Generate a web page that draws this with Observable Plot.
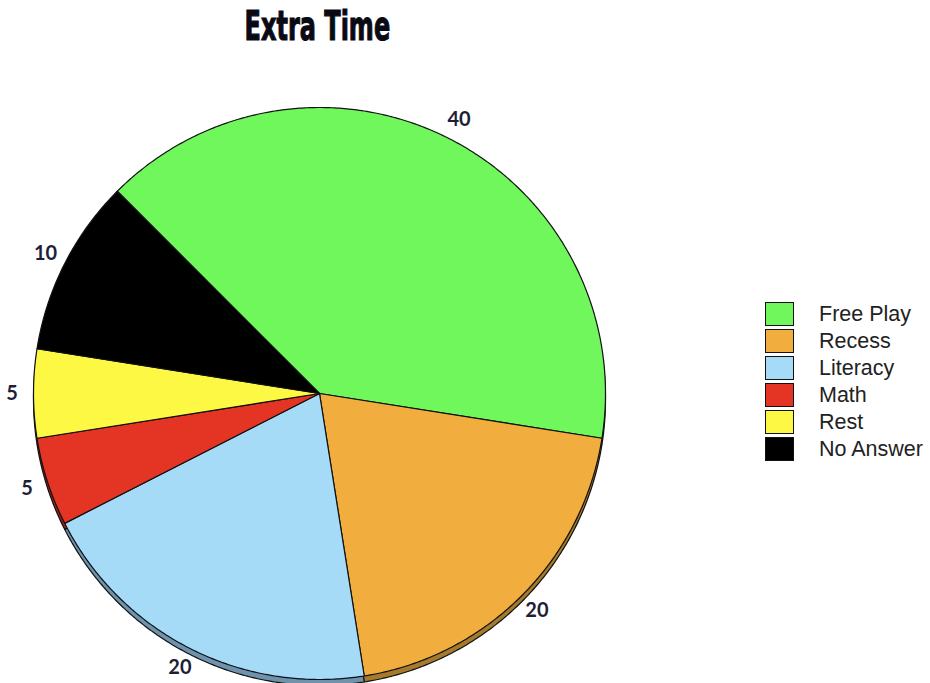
<!DOCTYPE html>
<html>
<head>
<meta charset="utf-8">
<script src="https://cdn.jsdelivr.net/npm/d3@7"></script>
<script src="https://cdn.jsdelivr.net/npm/@observablehq/plot@0.6"></script>
<style>
  html, body { margin: 0; padding: 0; background: #fff; }
  #wrap { position: relative; width: 930px; height: 683px; overflow: hidden; }
  #title { position: absolute; left: 0; width: 634px; top: 3px; text-align: center; }
  #title span { display: inline-block; transform: scaleX(0.6); transform-origin: 50% 50%;
    font-family: "DejaVu Sans", sans-serif; font-weight: 900; font-size: 40px; color: #0a0a14;
    -webkit-text-stroke: 1.2px #0a0a14; }
  #legend { position: absolute; left: 765px; top: 300px; font-family: Arial, "Liberation Sans", sans-serif; }
  .row { display: flex; align-items: center; height: 27px; }
  .sw { width: 27px; height: 22px; border: 1px solid #111; box-sizing: content-box; }
  .lab { margin-left: 25px; font-size: 21.5px; color: #222; line-height: 22px; }
  #chart { position: absolute; left: 0; top: 0; }
</style>
</head>
<body>
<div id="wrap">
  <div id="chart"></div>
  <div id="title"><span>Extra Time</span></div>
  <div id="legend"></div>
</div>
<script>
const categories = ["Free Play", "Recess", "Literacy", "Math", "Rest", "No Answer"];
const values = [40, 20, 20, 5, 5, 10];
const colors = ["#6ff75c", "#f1ad3e", "#a6dbf8", "#e43424", "#fcf844", "#000000"];
const shadowColors = ["#45a83a", "#a67a2c", "#6d93ae", "#9a2418", "#b0ac2c", "#000000"];

const R = 286, CX = 319, CY = 393;
const W = 930, H = 683;
const shadowDrop = 6 / R;

const arcs = d3.pie().sort(null).startAngle(-Math.PI / 4).endAngle(2 * Math.PI - Math.PI / 4)(values);

function slicePoints(dy, prefix) {
  const pts = [];
  arcs.forEach((a, i) => {
    const key = prefix + categories[i];
    pts.push({x: 0, y: dy, k: key});
    const n = Math.max(2, Math.ceil((a.endAngle - a.startAngle) / (Math.PI / 360)));
    for (let j = 0; j <= n; j++) {
      const t = a.startAngle + (a.endAngle - a.startAngle) * j / n;
      pts.push({x: Math.sin(t), y: Math.cos(t) + dy, k: key});
    }
    pts.push({x: 0, y: dy, k: key});
  });
  return pts;
}

const shadowPts = slicePoints(-shadowDrop, "s:");
const mainPts = slicePoints(0, "m:");

const labels = arcs.map((a, i) => {
  const m = (a.startAngle + a.endAngle) / 2;
  return {x: 1.075 * Math.sin(m), y: 1.075 * Math.cos(m), text: String(values[i])};
});

const domainKeys = categories.map(c => "s:" + c).concat(categories.map(c => "m:" + c));
const rangeCols = shadowColors.concat(colors);

const chart = Plot.plot({
  width: W, height: H,
  margin: 0,
  x: {domain: [-1, 1], range: [CX - R, CX + R], axis: null},
  y: {domain: [-1, 1], range: [CY + R, CY - R], axis: null},
  color: {domain: domainKeys, range: rangeCols, legend: false},
  marks: [
    Plot.line(shadowPts, {x: "x", y: "y", z: "k", fill: "k", stroke: "#111", strokeWidth: 1.2, curve: "linear"}),
    Plot.line(mainPts, {x: "x", y: "y", z: "k", fill: "k", stroke: "#111", strokeWidth: 1.2, curve: "linear"}),
    Plot.text(labels, {x: "x", y: "y", text: "text", fontSize: 20, fontWeight: "bold", fill: "#1e1e36",
      fontFamily: "Lato, 'Open Sans', sans-serif"})
  ]
});
document.getElementById("chart").appendChild(chart);

const legend = document.getElementById("legend");
categories.forEach((c, i) => {
  const row = document.createElement("div");
  row.className = "row";
  const sw = document.createElement("div");
  sw.className = "sw";
  sw.style.background = colors[i];
  const lab = document.createElement("div");
  lab.className = "lab";
  lab.textContent = c;
  row.appendChild(sw);
  row.appendChild(lab);
  legend.appendChild(row);
});
</script>
</body>
</html>
